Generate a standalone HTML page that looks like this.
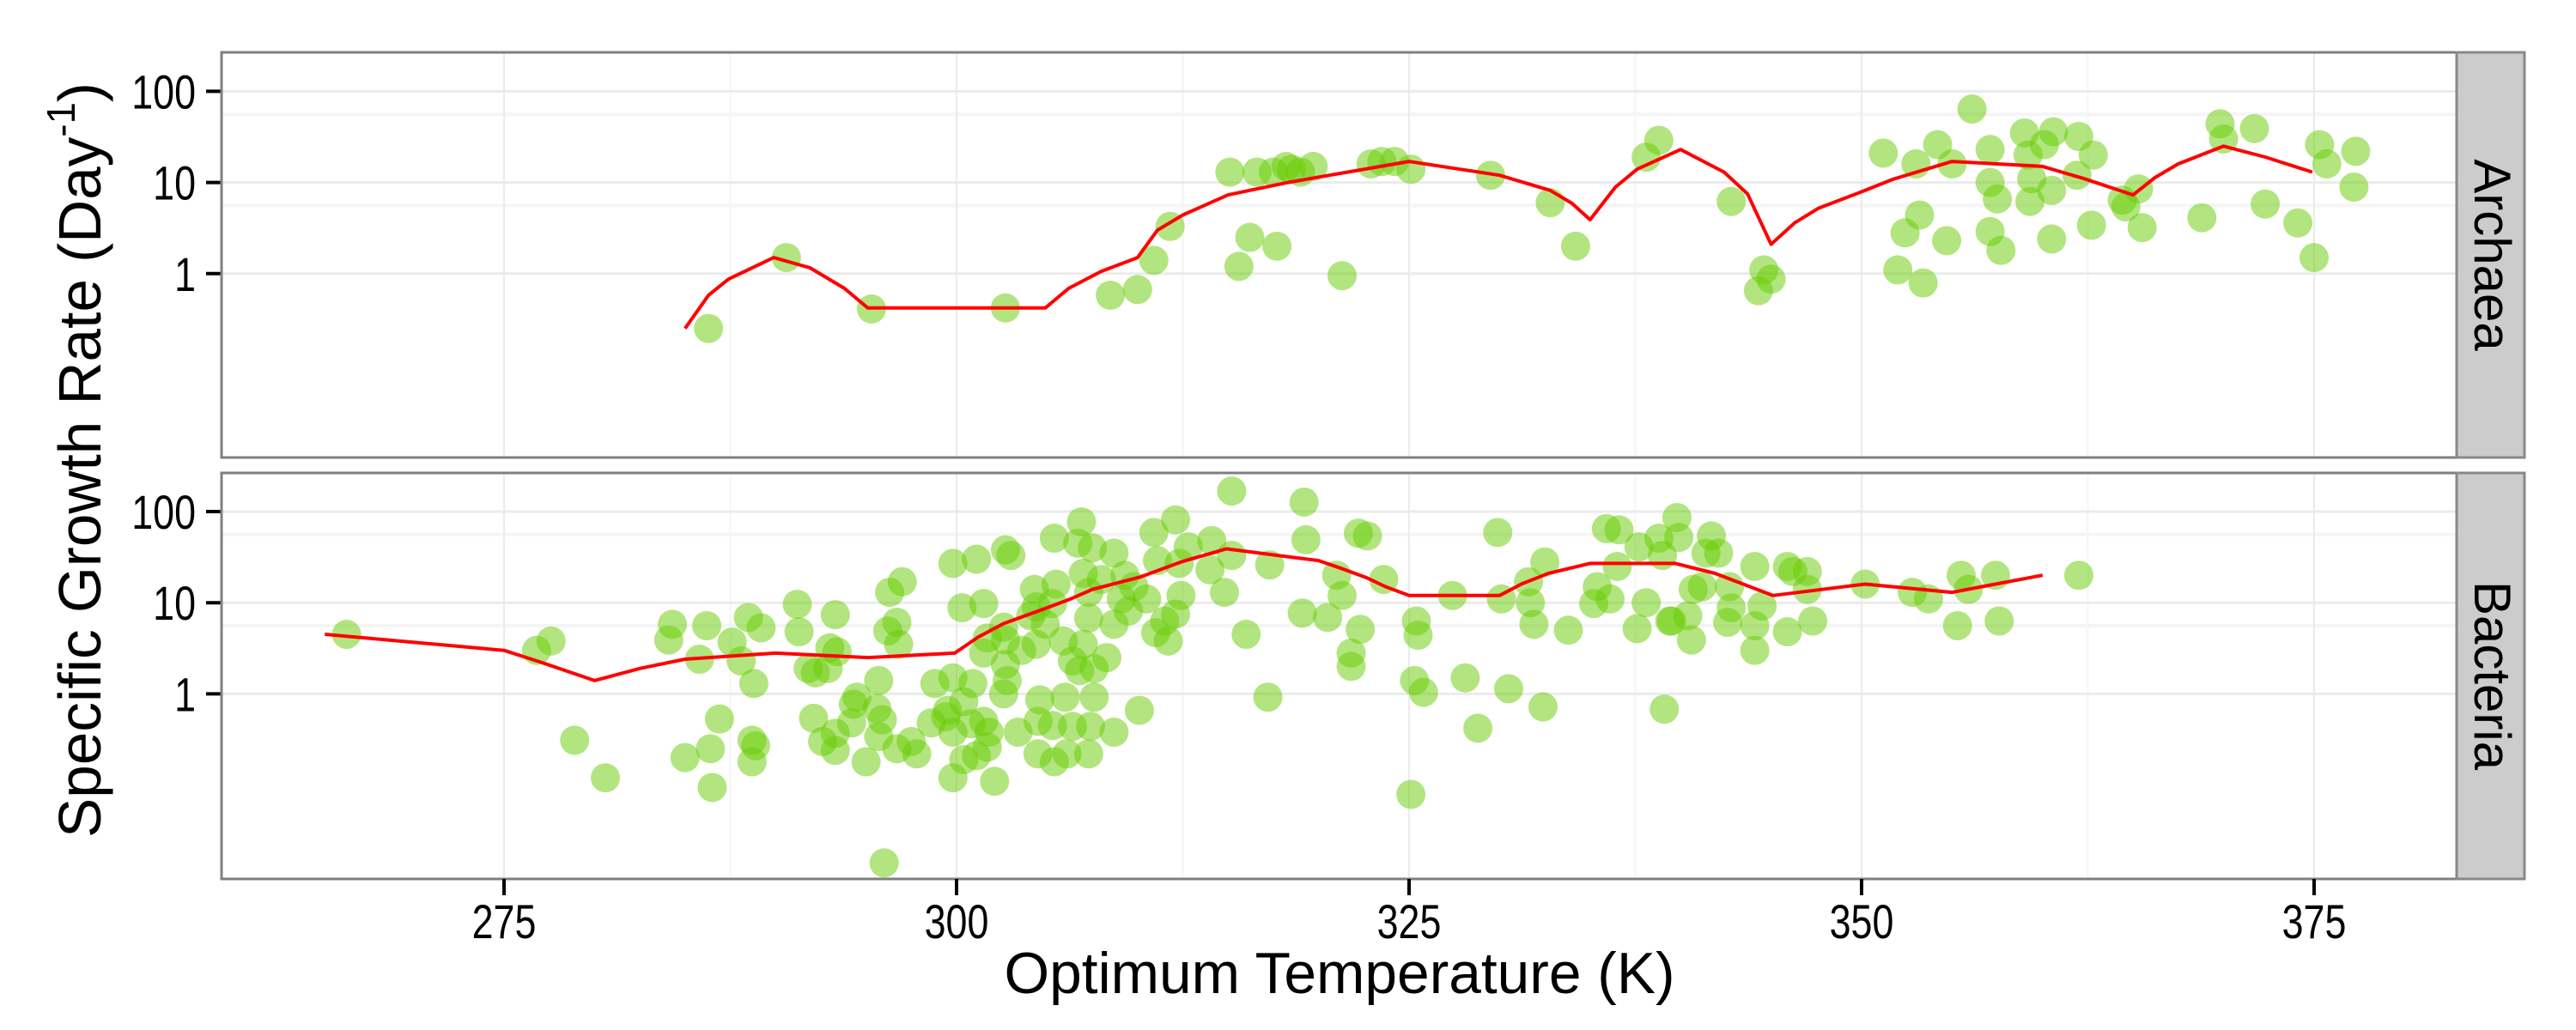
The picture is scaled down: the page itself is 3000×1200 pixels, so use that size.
<!DOCTYPE html>
<html><head><meta charset="utf-8"><style>
html,body{margin:0;padding:0;background:#fff;}
svg{display:block;font-family:"Liberation Sans",sans-serif;}
</style></head><body>
<svg id="chart" width="3000" height="1200" viewBox="0 0 3000 1200" xmlns="http://www.w3.org/2000/svg">
<g id="layer-grid"></g>
<g id="layer-data"></g>
<g id="layer-frame"></g>
<text transform="translate(117,536) rotate(-90)" text-anchor="middle" font-size="70" textLength="880" lengthAdjust="spacingAndGlyphs" fill="#000">Specific Growth Rate (Day<tspan font-size="46" dy="-30">-1</tspan><tspan dy="30">)</tspan></text>
<text x="1560" y="1157" text-anchor="middle" font-size="68" textLength="781" lengthAdjust="spacingAndGlyphs" fill="#000">Optimum Temperature (K)</text>
<text transform="translate(2882,297) rotate(90)" text-anchor="middle" font-size="60" fill="#000">Archaea</text>
<text transform="translate(2882,787) rotate(90)" text-anchor="middle" font-size="60" fill="#000">Bacteria</text>
</svg>
<script>
// ---- data ----
const xTicks = [275, 300, 325, 350, 375];
const xMinor = [287.5, 312.5, 337.5, 362.5];
const yTicks = [1, 10, 100];
const yTickLabels = ["1", "10", "100"];
const yMinor = [5.6, 56];

const archaeaT = [286.3,290.6,295.3,302.7,308.5,310.0,310.9,311.8,315.1,315.6,316.2,316.6,317.7,317.5,318.2,318.5,319.0,319.7,321.3,322.9,323.5,324.2,325.1,329.5,332.8,334.2,338.1,338.8,342.8,344.6,345.0,344.3,351.2,352.4,353.2,352.0,353.4,353.0,354.2,354.7,355.0,356.1,357.1,357.1,357.1,357.7,357.5,359.0,359.2,359.3,359.4,360.1,360.6,360.5,360.5,362.0,361.9,362.8,362.7,364.4,364.6,365.3,365.5,368.8,369.8,370.0,371.7,372.3,374.1,375.0,375.3,375.7,377.3,377.2];
const archaeaRate = [0.25,1.5,0.41,0.42,0.58,0.67,1.4,3.3,13,1.2,2.5,13,2.0,13,15,14,13,15,0.95,16,17,17,14,12,6.0,2.0,19,29,6.2,1.1,0.87,0.65,21,2.8,4.4,1.1,0.79,16,26,2.3,16,64,23,10,2.9,1.8,6.6,35,20,6.2,11,26,36,8.2,2.4,32,12,20,3.4,6.4,5.4,8.5,3.2,4.1,44,30,39,5.8,3.6,1.5,26,16,22,8.9];
const archaeaLineT = [285.0,286.3,287.4,289.9,291.9,293.8,295.1,304.9,306.2,308.0,310.0,311.1,312.5,315.0,318.3,325.0,330.0,332.8,334.0,335.0,336.4,337.6,340.0,342.4,343.7,345.0,346.3,347.6,350.2,351.7,355.0,360.0,362.3,365.0,366.2,367.5,370.0,372.3,374.9];
const archaeaLineRate = [0.25,0.58,0.87,1.5,1.16,0.69,0.42,0.42,0.69,1.06,1.5,3.0,4.4,7.3,10,17,12,8.2,5.9,3.9,8.9,14,23,13,7.5,2.1,3.6,5.2,8.2,10.8,17,15,11,7.3,11.3,16,25,19,13];

const bacteriaT = [266.3,276.8,277.6,278.9,280.6,284.3,284.1,286.2,285.8,286.9,285.0,286.4,286.5,287.6,288.5,289.2,288.1,288.8,288.7,288.9,288.7,
291.2,291.3,293.3,293.0,293.4,291.8,292.2,292.9,296.3,297.0,296.7,296.2,296.8,294.5,295.7,294.3,292.1,294.2,295.6,295.9,292.6,293.3,293.3,295.0,295.7,296.7,297.5,297.8,296.0,
299.8,301.1,302.7,303.0,300.3,301.5,305.4,306.9,306.7,307.5,308.7,310.9,312.1,315.2,312.8,314.1,315.2,317.3,311.1,312.3,314.0,314.8,316.0,317.2,312.4,310.5,312.1,311.5,311.0,311.7,
309.3,309.8,309.1,308.7,309.5,308.0,307.3,307.0,307.3,305.5,304.3,304.4,305.3,304.1,304.9,304.4,305.9,307.0,308.3,306.4,307.6,306.8,302.6,301.7,301.5,302.7,303.6,302.7,302.8,302.6,
299.8,298.8,300.9,300.4,299.5,299.4,298.6,299.8,300.8,301.5,301.8,301.7,301.1,300.4,299.8,302.1,303.4,304.6,304.5,306.0,307.6,310.1,305.3,306.4,307.4,308.7,304.5,305.4,306.1,307.3,
319.2,319.3,322.2,322.7,321.0,321.3,323.6,319.1,320.5,322.3,321.8,321.8,325.4,325.5,325.3,325.8,325.1,327.4,328.1,328.8,330.5,332.4,329.9,330.1,331.6,331.7,331.9,332.5,333.8,335.9,336.6,335.4,335.2,336.1,336.5,337.7,338.1,337.6,338.8,339.0,339.5,339.1,
339.8,339.9,341.7,341.4,342.1,341.2,340.7,340.4,340.6,339.4,342.7,342.8,342.6,344.1,344.5,344.1,344.1,345.9,346.2,347.0,347.0,345.9,347.3,350.2,352.8,353.7,355.5,355.9,357.4,355.3,357.6,362.0];
const bacteriaRate = [4.5,3.0,3.8,0.31,0.12,5.8,3.9,5.6,2.4,0.53,0.20,0.25,0.094,3.7,6.9,5.3,2.3,1.3,0.31,0.27,0.18,
9.6,4.8,7.4,3.2,2.9,1.9,1.7,1.9,13,17,6.1,4.9,3.5,0.92,1.4,0.77,0.54,0.48,0.69,0.52,0.30,0.24,0.37,0.18,0.34,0.25,0.30,0.22,0.014,
27,30,38,33,8.8,9.8,51,77,45,40,35,59,81,168,41,48,33,26,29,27,23,13,4.5,0.92,12,11,7.5,6.3,4.7,3.8,
20,15,11,5.8,8.1,18,13,21,6.8,16,14,9.0,9.8,7.2,5.8,3.5,3.8,3.5,2.5,2.3,1.9,1.8,5.4,4.1,2.8,3.9,3.0,2.1,1.4,1.0,
1.5,1.3,1.3,0.82,0.66,0.56,0.48,0.38,0.47,0.50,0.38,0.26,0.21,0.19,0.12,0.11,0.38,0.86,0.50,0.92,0.92,0.66,0.45,0.44,0.44,0.38,0.22,0.18,0.22,0.22,
127,49,58,54,20,12,18,7.7,6.9,5.1,2.8,2.0,6.3,4.4,1.4,1.04,0.079,12,1.5,0.42,1.14,0.72,59,11,17,10,5.8,28,5.0,65,63,15,9.8,11,25,41,10,5.2,51,33,6.3,0.68,
86,52,54,35,35,15,14,7.2,3.9,6.3,15,8.8,6.1,25,9.2,5.6,3.0,25,22,22,14,4.8,6.3,16,13,11,20,14,20,5.6,6.3,20];
const bacteriaLineT = [265.1,275.0,277.1,280.0,282.5,285.0,290.0,295.1,299.9,301.2,302.6,305.0,306.3,307.5,310.1,312.4,314.9,318.3,320.0,321.2,322.6,323.7,325.0,330.0,331.2,332.7,335.0,339.7,341.9,345.1,350.2,355.0,357.4,360.0];
const bacteriaLineRate = [4.5,3.0,2.2,1.4,1.9,2.4,2.8,2.5,2.8,4.2,5.9,8.8,11,14,19,28,39,32,29,24,19,15,12,12,16,21,27,27,21,12,16,13,16,20];

// ---- layout ----
const PL = 258, PR = 2861;
const panels = [
  {name:'archaea', top:61, bottom:533, y100:106.4, T:archaeaT, R:archaeaRate, LT:archaeaLineT, LR:archaeaLineRate},
  {name:'bacteria', top:551, bottom:1024, y100:596, T:bacteriaT, R:bacteriaRate, LT:bacteriaLineT, LR:bacteriaLineRate}
];
const DEC = 106.2;
function xScale(t){ return 587 + (t - 275) * 21.08; }
function yScale(p, v){ return p.y100 + (2 - Math.log10(v)) * DEC; }

const NS = 'http://www.w3.org/2000/svg';
function mk(tag, attrs, parent){
  const e = document.createElementNS(NS, tag);
  for (const k in attrs) e.setAttribute(k, attrs[k]);
  parent.appendChild(e);
  return e;
}
const gGrid = document.getElementById('layer-grid');
const gData = document.getElementById('layer-data');
const gFrame = document.getElementById('layer-frame');

panels.forEach(p => {
  const bg = mk('rect', {x:PL, y:p.top, width:PR-PL, height:p.bottom-p.top, fill:'#fff'}, gGrid);
  
  
  xMinor.forEach(t => {
    const l = mk('line', {x1:xScale(t), x2:xScale(t), y1:p.top, y2:p.bottom, stroke:'#f5f5f5', 'stroke-width':2}, gGrid);
    
    
  });
  yMinor.forEach(v => {
    const l = mk('line', {x1:PL, x2:PR, y1:yScale(p,v), y2:yScale(p,v), stroke:'#f5f5f5', 'stroke-width':4}, gGrid);
    
    
  });
  xTicks.forEach(t => {
    const l = mk('line', {x1:xScale(t), x2:xScale(t), y1:p.top, y2:p.bottom, stroke:'#ebebeb', 'stroke-width':2}, gGrid);
    
    
  });
  yTicks.forEach((v, i) => {
    const y = yScale(p, v);
    const l = mk('line', {x1:PL, x2:PR, y1:y, y2:y, stroke:'#ebebeb', 'stroke-width':3}, gGrid);
    
    
    const tk = mk('line', {x1:240, x2:PL, y1:y, y2:y, stroke:'#000', 'stroke-width':4}, gFrame);
    
    
    const tx = mk('text', {x:228, y:y+20, 'text-anchor':'end', 'font-size':56, fill:'#000', transform:'translate(228,0) scale(0.8,1) translate(-228,0)'}, gFrame);
    tx.textContent = yTickLabels[i];
    
    
  });
  p.T.forEach((t, i) => {
    const c = mk('circle', {cx:xScale(t), cy:yScale(p, p.R[i]), r:17, fill:'#66cc00', 'fill-opacity':0.5}, gData);
    
    
  });
  const d = p.LT.map((t, i) => (i ? 'L' : 'M') + xScale(t).toFixed(1) + ',' + yScale(p, p.LR[i]).toFixed(1)).join(' ');
  const path = mk('path', {d:d, fill:'none', stroke:'#ff0000', 'stroke-width':4, 'stroke-linejoin':'round'}, gData);
  
  
  const fr = mk('rect', {x:PL, y:p.top, width:PR-PL, height:p.bottom-p.top, fill:'none', stroke:'#7f7f7f', 'stroke-width':3}, gFrame);
  
  
  const st = mk('rect', {x:PR, y:p.top, width:2940-PR, height:p.bottom-p.top, fill:'#cccccc', stroke:'#888888', 'stroke-width':3}, gFrame);
  
  
});

xTicks.forEach(t => {
  const x = xScale(t);
  const tk = mk('line', {x1:x, x2:x, y1:1024, y2:1043, stroke:'#000', 'stroke-width':4}, gFrame);
  
  
  const tx = mk('text', {x:x, y:1093, 'text-anchor':'middle', 'font-size':56, fill:'#000', transform:'translate('+x+',0) scale(0.8,1) translate('+(-x)+',0)'}, gFrame);
  tx.textContent = String(t);
  
  
});
</script>
</body></html>
